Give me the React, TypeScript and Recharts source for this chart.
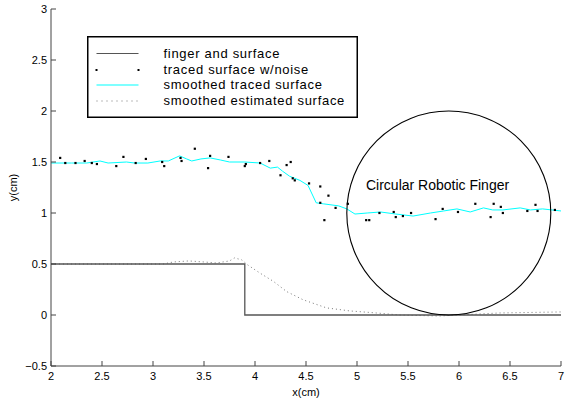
import React from 'react';
import { ComposedChart, Line, Scatter, XAxis, YAxis, ReferenceDot, Legend } from 'recharts';

// ---- data ----
const surfaceX = [2, 3.9, 3.9, 7];
const surfaceY = [0.5, 0.5, 0, 0];

const tracedX = [2.09, 2.14, 2.24, 2.33, 2.40, 2.45, 2.64, 2.71, 2.83, 2.93, 3.09, 3.11, 3.27, 3.28, 3.41, 3.54, 3.56, 3.74, 3.90, 3.91, 4.05, 4.14, 4.25, 4.31, 4.35, 4.37, 4.39, 4.53, 4.64, 4.64, 4.68, 4.72, 4.79, 4.91, 5.09, 5.12, 5.22, 5.36, 5.38, 5.45, 5.53, 5.77, 5.84, 5.99, 6.16, 6.31, 6.34, 6.41, 6.43, 6.67, 6.75, 6.77, 6.94];
const tracedY = [1.54, 1.49, 1.49, 1.51, 1.49, 1.48, 1.46, 1.55, 1.49, 1.53, 1.50, 1.46, 1.54, 1.51, 1.63, 1.44, 1.56, 1.55, 1.46, 1.48, 1.49, 1.51, 1.37, 1.47, 1.50, 1.34, 1.32, 1.29, 1.26, 1.10, 0.93, 1.17, 1.05, 1.09, 0.93, 0.93, 1.00, 1.01, 0.96, 0.97, 1.00, 0.94, 1.04, 1.01, 1.09, 0.96, 1.09, 1.06, 1.00, 1.02, 1.08, 1.02, 1.03];

const smoothX = [2.00, 2.20, 2.35, 2.48, 2.56, 2.74, 2.82, 2.95, 3.07, 3.15, 3.26, 3.33, 3.38, 3.47, 3.56, 3.66, 3.75, 3.90, 4.05, 4.15, 4.22, 4.27, 4.34, 4.44, 4.52, 4.60, 4.67, 4.82, 4.90, 4.98, 5.10, 5.23, 5.38, 5.55, 5.72, 5.85, 5.98, 6.11, 6.24, 6.33, 6.43, 6.60, 6.70, 6.82, 7.00];
const smoothY = [1.49, 1.49, 1.49, 1.51, 1.49, 1.50, 1.49, 1.49, 1.51, 1.51, 1.56, 1.53, 1.51, 1.53, 1.54, 1.52, 1.50, 1.50, 1.49, 1.44, 1.45, 1.41, 1.36, 1.32, 1.27, 1.10, 1.09, 1.07, 1.04, 0.99, 1.00, 1.01, 0.99, 0.97, 1.00, 1.02, 1.04, 1.01, 1.05, 1.03, 1.03, 1.05, 1.03, 1.04, 1.02];

const estX = [2.0, 3.1, 3.2, 3.35, 3.5, 3.62, 3.75, 3.8, 3.87, 3.93, 4.05, 4.18, 4.31, 4.47, 4.7, 4.93, 5.19, 5.42, 5.8, 6.0, 6.4, 7.0];
const estY = [0.5, 0.5, 0.52, 0.53, 0.52, 0.51, 0.53, 0.56, 0.54, 0.49, 0.41, 0.33, 0.23, 0.15, 0.07, 0.04, 0.02, 0.0, -0.01, 0.0, 0.02, 0.03];

const fingerCenter = { x: 5.9, y: 1 };
const fingerRadius = 1;
const fingerLabel = { x: 5.79, y: 1.27, text: 'Circular Robotic Finger' };

const xTicks = [2, 2.5, 3, 3.5, 4, 4.5, 5, 5.5, 6, 6.5, 7];
const yTicks = [-0.5, 0, 0.5, 1, 1.5, 2, 2.5, 3];

const legendLabels = ['finger and surface', 'traced surface w/noise', 'smoothed traced surface', 'smoothed estimated surface'];

const zip = (xs: number[], ys: number[]) => xs.map((x, i) => ({ x, y: ys[i] }));
const surface = zip(surfaceX, surfaceY);
const traced = zip(tracedX, tracedY);
const smooth = zip(smoothX, smoothY);
const est = zip(estX, estY);

// ---- layout ----
const W = 572;
const H = 399;
const MARGIN = { top: 9, right: 11, left: 6, bottom: 0 };
const Y_AXIS_W = 45;
const X_AXIS_H = 33;
const X_MIN = 2, X_MAX = 7;
const PLOT_W = W - MARGIN.left - MARGIN.right - Y_AXIS_W;
const PX_PER_UNIT = PLOT_W / (X_MAX - X_MIN);

const FONT = '"Liberation Sans", Arial, Helvetica, sans-serif';
const AXIS_COLOR = '#444';

const fmt = (v: number) => (v < 0 ? '\u2212' + String(-v) : String(v));

const LegendBox = () => (
  <svg width={271} height={82} style={{ display: 'block' }}>
    <rect x={0.75} y={0.75} width={269.5} height={80.5} fill="#fff" stroke="#000" strokeWidth={1.5} />
    <line x1={9.5} x2={51.5} y1={17.5} y2={17.5} stroke="#555" strokeWidth={1.2} />
    <rect x={8.5} y={33} width={2} height={2} fill="#000" />
    <rect x={50.5} y={33} width={2} height={2} fill="#000" />
    <line x1={9.5} x2={51.5} y1={49} y2={49} stroke="#00ffff" strokeWidth={1.2} />
    <line x1={9.5} x2={51.5} y1={65} y2={65} stroke="#777" strokeWidth={1} strokeDasharray="1 4" />
    {legendLabels.map((t, i) => (
      <text key={t} x={76.5} y={22 + i * 15.7} fontSize={13} letterSpacing={0.7} fontFamily={FONT} fill="#000">
        {t}
      </text>
    ))}
  </svg>
);

const TracedDot = (p: any) => <rect x={p.cx - 1.1} y={p.cy - 1.1} width={2.2} height={2.2} fill="#000" />;

export default function App() {
  return (
    <div style={{ position: 'absolute', left: 0, top: 0, background: '#fff' }}>
      <ComposedChart width={W} height={H} margin={MARGIN} style={{ fontFamily: FONT }}>
        <XAxis
          type="number"
          dataKey="x"
          domain={[X_MIN, X_MAX]}
          ticks={xTicks}
          allowDataOverflow
          height={X_AXIS_H}
          tickSize={-5}
          tickMargin={11}
          stroke={AXIS_COLOR}
          tick={{ fill: '#000', fontSize: 11 }}
          label={{ value: 'x(cm)', position: 'insideBottom', offset: 3, fill: '#000', fontSize: 11 }}
        />
        <YAxis
          type="number"
          dataKey="y"
          domain={[-0.5, 3]}
          ticks={yTicks}
          allowDataOverflow
          width={Y_AXIS_W}
          tickSize={-5}
          tickMargin={9}
          tickFormatter={fmt}
          stroke={AXIS_COLOR}
          tick={{ fill: '#000', fontSize: 11 }}
          label={{ value: 'y(cm)', angle: -90, position: 'insideLeft', offset: 7, fill: '#000', fontSize: 11, style: { textAnchor: 'middle' } }}
        />
        <Line data={est} dataKey="y" stroke="#777" strokeWidth={1} strokeDasharray="1 3" dot={false} isAnimationActive={false} />
        <Line data={surface} dataKey="y" stroke="#555" strokeWidth={1.3} dot={false} isAnimationActive={false} />
        <Line data={smooth} dataKey="y" stroke="#00ffff" strokeWidth={1} dot={false} isAnimationActive={false} />
        <Scatter data={traced} dataKey="y" shape={TracedDot} isAnimationActive={false} />
        <ReferenceDot
          x={fingerCenter.x}
          y={fingerCenter.y}
          r={fingerRadius * PX_PER_UNIT}
          fill="none"
          stroke="#000"
          strokeWidth={1.1}
        />
        <ReferenceDot
          x={fingerLabel.x}
          y={fingerLabel.y}
          r={0}
          shape={(p: any) => (
            <text x={p.cx} y={p.cy} textAnchor="middle" dominantBaseline="central" fontSize={14} fontFamily={FONT} fill="#000">
              {fingerLabel.text}
            </text>
          )}
        />
        <Legend
          layout="horizontal"
          verticalAlign="middle"
          align="center"
          wrapperStyle={{ left: 87, top: 36, width: 271, height: 82 }}
          content={() => <LegendBox />}
        />
      </ComposedChart>
    </div>
  );
}
